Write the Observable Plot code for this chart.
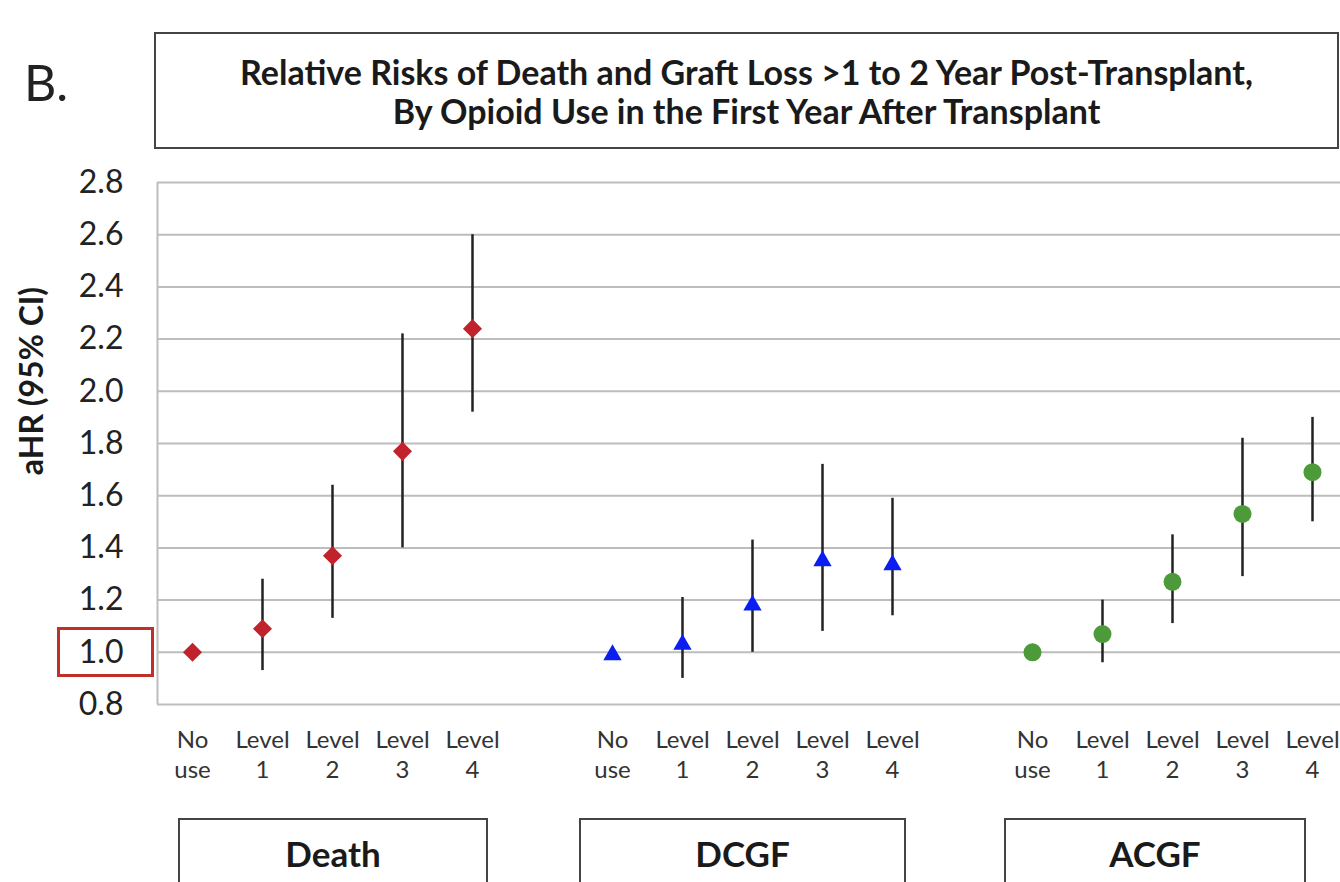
<!DOCTYPE html>
<html>
<head>
<meta charset="utf-8">
<script src="https://cdn.jsdelivr.net/npm/d3@7"></script>
<script src="https://cdn.jsdelivr.net/npm/@observablehq/plot@0.6"></script>
<style>
html,body{margin:0;padding:0;background:#fff;overflow:hidden;}
#root{position:relative;width:1340px;height:882px;font-family:Lato,"Open Sans",sans-serif;color:#222;}
.panel{position:absolute;left:24px;top:57px;font-size:50px;line-height:50px;}
.title{position:absolute;left:154px;top:32px;width:1185px;height:117px;box-sizing:border-box;border:2px solid #444;display:flex;flex-direction:column;justify-content:center;align-items:center;font-weight:700;font-size:34px;line-height:39px;text-align:center;color:#1a1a1a;}
#chart{position:absolute;left:0;top:160px;}
.ylab{position:absolute;left:30px;top:381px;transform:translate(-50%,-50%) rotate(-90deg);font-weight:700;font-size:32px;white-space:nowrap;color:#1a1a1a;}
.ref{position:absolute;left:57px;top:627px;width:97px;height:50px;box-sizing:border-box;border:3px solid #c0302b;}
.group{position:absolute;top:818px;height:100px;box-sizing:border-box;border:2px solid #444;font-weight:700;font-size:35px;line-height:35px;text-align:center;padding-top:16px;color:#1a1a1a;}
</style>
</head>
<body>
<div id="root">
  <div class="panel">B.</div>
  <div class="title"><div>Relative Risks of Death and Graft Loss &gt;1 to 2 Year Post-Transplant,</div><div>By Opioid Use in the First Year After Transplant</div></div>
  <div id="chart"></div>
  <div class="ylab">aHR (95% CI)</div>
  <div class="ref"></div>
  <div class="group" style="left:178px;width:310px;">Death</div>
  <div class="group" style="left:579px;width:327px;">DCGF</div>
  <div class="group" style="left:1004px;width:302px;">ACGF</div>
</div>
<script>
const outcomes = ["Death", "DCGF", "ACGF"];
const levels = ["No use", "Level 1", "Level 2", "Level 3", "Level 4"];
const levelTickLabels = ["No\nuse", "Level\n1", "Level\n2", "Level\n3", "Level\n4"];
const yTicks = [0.8, 1.0, 1.2, 1.4, 1.6, 1.8, 2.0, 2.2, 2.4, 2.6, 2.8];

const deathEst = [1.00, 1.09, 1.37, 1.77, 2.24];
const deathLo  = [null, 0.93, 1.13, 1.40, 1.92];
const deathHi  = [null, 1.28, 1.64, 2.22, 2.60];

const dcgfEst = [1.00, 1.04, 1.19, 1.36, 1.345];
const dcgfLo  = [null, 0.90, 1.00, 1.08, 1.14];
const dcgfHi  = [null, 1.21, 1.43, 1.72, 1.59];

const acgfEst = [1.00, 1.07, 1.27, 1.53, 1.69];
const acgfLo  = [null, 0.96, 1.11, 1.29, 1.50];
const acgfHi  = [null, 1.20, 1.45, 1.82, 1.90];

const series = [
  {outcome: "Death", est: deathEst, lo: deathLo, hi: deathHi},
  {outcome: "DCGF", est: dcgfEst, lo: dcgfLo, hi: dcgfHi},
  {outcome: "ACGF", est: acgfEst, lo: acgfLo, hi: acgfHi}
];

const rows = series.flatMap(s => levels.map((l, i) => ({
  outcome: s.outcome, level: l, key: s.outcome + "|" + l,
  est: s.est[i], lo: s.lo[i], hi: s.hi[i]
})));

const keys = outcomes.flatMap((o, i) => [...levels.map(l => o + "|" + l), ...(i < outcomes.length - 1 ? ["gap" + i] : [])]);
const tickKeys = keys.filter(k => !k.startsWith("gap"));

const grid = "#bdbdbd";
const chart = Plot.plot({
  width: 1340,
  height: 634,
  marginTop: 22,
  marginBottom: 90,
  marginLeft: 157,
  marginRight: 0,
  style: {fontFamily: "Lato, 'Open Sans', sans-serif", background: "transparent", overflow: "visible"},
  x: {type: "band", domain: keys, range: [157, 1347], padding: 0},
  y: {domain: [0.8, 2.8]},
  marks: [
    Plot.gridY(yTicks, {stroke: grid, strokeOpacity: 1, strokeWidth: 2}),
    Plot.ruleX([keys[0]], {dx: -35, stroke: grid, strokeWidth: 2}),
    Plot.axisY(yTicks, {tickSize: 0, tickPadding: 34, tickFormat: d3.format(".1f"), fontSize: 32, fill: "#222", label: null}),
    Plot.axisX(tickKeys, {tickSize: 0, tickPadding: 22, tickFormat: k => levelTickLabels[levels.indexOf(k.split("|")[1])], fontSize: 24, lineHeight: 1.25, fill: "#333", label: null}),
    Plot.ruleX(rows.filter(d => d.lo != null), {x: "key", y1: "lo", y2: "hi", stroke: "#222", strokeWidth: 2.5}),
    Plot.dot(rows.filter(d => d.outcome === "Death"), {x: "key", y: "est", symbol: "diamond2", r: 8.6, fill: "#c0232b", stroke: "none"}),
    Plot.dot(rows.filter(d => d.outcome === "DCGF"), {x: "key", y: "est", symbol: "triangle", r: 6.8, dy: 2.6, fill: "#0b1ef2", stroke: "none"}),
    Plot.dot(rows.filter(d => d.outcome === "ACGF"), {x: "key", y: "est", symbol: "circle", r: 9, fill: "#4c9a3a", stroke: "none"})
  ]
});
document.getElementById("chart").appendChild(chart);
</script>
</body>
</html>
